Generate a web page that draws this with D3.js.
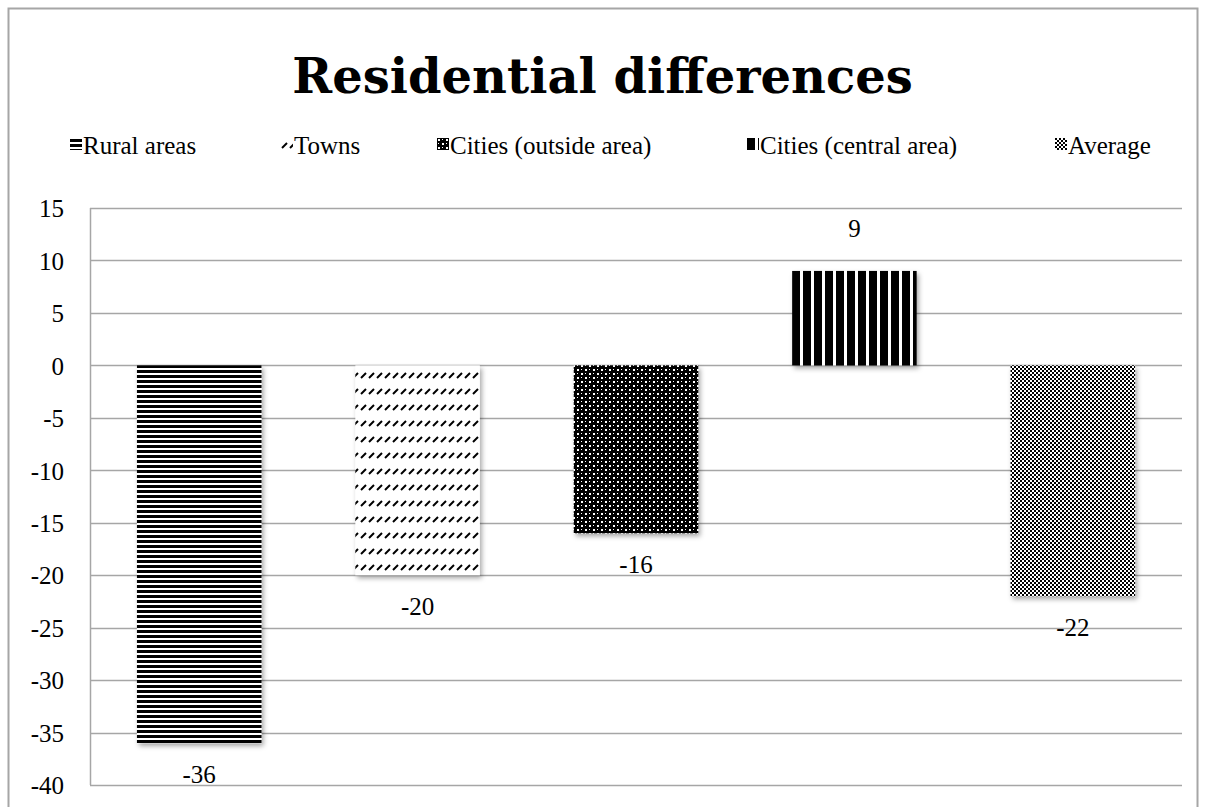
<!DOCTYPE html>
<html>
<head>
<meta charset="utf-8">
<script src="https://cdn.jsdelivr.net/npm/d3@7"></script>
<style>
  body { margin: 0; background: #fff; }
  text { font-family: "Liberation Serif", "DejaVu Serif", serif; fill: #000; }
</style>
</head>
<body>
<div id="chart"></div>
<script>
const categories = ['Rural areas', 'Towns', 'Cities (outside area)', 'Cities (central area)', 'Average'];
const values = [-36, -20, -16, 9, -22];
const tickValues = [15, 10, 5, 0, -5, -10, -15, -20, -25, -30, -35, -40];
const patternIds = ['pRural', 'pTowns', 'pOutside', 'pCentral', 'pAverage'];

const width = 1205;
const height = 807;
const margin = { top: 208, right: 23, bottom: 22, left: 90 };

const svg = d3.select('#chart')
  .append('svg')
  .attr('width', width)
  .attr('height', height);

// outer frame
svg.append('rect')
  .attr('x', 8.5)
  .attr('y', 8.5)
  .attr('width', 1189)
  .attr('height', 820)
  .attr('fill', 'none')
  .attr('stroke', '#a6a6a6')
  .attr('stroke-width', 2);

const defs = svg.append('defs');

// horizontal lines
const p1 = defs.append('pattern').attr('id', 'pRural')
  .attr('patternUnits', 'userSpaceOnUse').attr('width', 8).attr('height', 5);
p1.append('rect').attr('width', 8).attr('height', 5).attr('fill', '#fff');
p1.append('rect').attr('width', 8).attr('height', 3).attr('fill', '#000');

// dashed diagonals
const p2 = defs.append('pattern').attr('id', 'pTowns')
  .attr('patternUnits', 'userSpaceOnUse').attr('width', 8).attr('height', 16);
p2.append('rect').attr('width', 8).attr('height', 16).attr('fill', '#fff');
p2.append('path').attr('d', 'M1,10 L6,5').attr('stroke', '#000').attr('stroke-width', 2);

// diamond checks
const p3 = defs.append('pattern').attr('id', 'pOutside')
  .attr('patternUnits', 'userSpaceOnUse').attr('width', 8).attr('height', 8);
p3.append('rect').attr('width', 8).attr('height', 8).attr('fill', '#000');
p3.append('rect').attr('x', 1).attr('y', 1).attr('width', 2).attr('height', 2).attr('fill', '#fff');
p3.append('rect').attr('x', 5).attr('y', 5).attr('width', 2).attr('height', 2).attr('fill', '#fff');
p3.append('rect').attr('x', 5).attr('y', 1).attr('width', 1).attr('height', 1).attr('fill', '#fff');
p3.append('rect').attr('x', 1).attr('y', 5).attr('width', 1).attr('height', 1).attr('fill', '#fff');

// vertical stripes
const p4 = defs.append('pattern').attr('id', 'pCentral')
  .attr('patternUnits', 'userSpaceOnUse').attr('width', 11).attr('height', 8);
p4.append('rect').attr('width', 11).attr('height', 8).attr('fill', '#fff');
p4.append('rect').attr('width', 8).attr('height', 8).attr('fill', '#000');

// small checkerboard with dots
const p5 = defs.append('pattern').attr('id', 'pAverage')
  .attr('patternUnits', 'userSpaceOnUse').attr('width', 4).attr('height', 4);
p5.append('rect').attr('width', 4).attr('height', 4).attr('fill', '#fff');
p5.append('rect').attr('width', 2).attr('height', 2).attr('fill', '#000');
p5.append('rect').attr('x', 2).attr('y', 2).attr('width', 2).attr('height', 2).attr('fill', '#000');

const shadow = defs.append('filter').attr('id', 'shadow')
  .attr('x', '-10%').attr('y', '-10%').attr('width', '130%').attr('height', '130%');
shadow.append('feDropShadow')
  .attr('dx', 2).attr('dy', 3).attr('stdDeviation', 2.5)
  .attr('flood-color', '#000').attr('flood-opacity', 0.35);

// title
svg.append('text')
  .attr('x', width / 2)
  .attr('y', 93)
  .attr('text-anchor', 'middle')
  .style('font-family', '"DejaVu Serif", serif')
  .style('font-size', '48px')
  .style('font-weight', 'bold')
  .text('Residential differences');

// legend
const legendX = [70, 281, 437, 747, 1055];
const legend = svg.append('g');
categories.forEach((c, i) => {
  const lg = legend.append('g').attr('transform', `translate(${legendX[i]},154)`);
  lg.append('rect')
    .attr('x', 0).attr('y', -16)
    .attr('width', 12).attr('height', 12)
    .attr('fill', `url(#${patternIds[i]})`);
  lg.append('text')
    .attr('x', 13)
    .attr('y', 0)
    .style('font-size', '25px')
    .text(c);
});

const x = d3.scaleBand()
  .domain(categories)
  .range([margin.left, width - margin.right])
  .paddingInner(0.43)
  .paddingOuter(0.215);

const y = d3.scaleLinear()
  .domain([-40, 15])
  .range([height - margin.bottom, margin.top]);

// gridlines
svg.append('g')
  .selectAll('line')
  .data(tickValues)
  .enter()
  .append('line')
  .attr('x1', margin.left)
  .attr('x2', width - margin.right)
  .attr('y1', (d) => Math.round(y(d)) + 0.5)
  .attr('y2', (d) => Math.round(y(d)) + 0.5)
  .attr('stroke', '#a6a6a6')
  .attr('stroke-width', 1.5);

// left axis line
svg.append('line')
  .attr('x1', margin.left + 0.5)
  .attr('x2', margin.left + 0.5)
  .attr('y1', y(15))
  .attr('y2', y(-40))
  .attr('stroke', '#a6a6a6')
  .attr('stroke-width', 1.5);

const yAxis = svg.append('g')
  .attr('transform', `translate(${margin.left},0)`)
  .call(d3.axisLeft(y).tickValues(tickValues).tickSize(0).tickPadding(26).tickFormat((d) => `${d}`));
yAxis.select('.domain').remove();
yAxis.selectAll('text')
  .style('font-size', '25px')
  .style('font-family', '"Liberation Serif", "DejaVu Serif", serif')
  .attr('dy', '0.35em');

// bars
svg.append('g')
  .selectAll('rect')
  .data(values)
  .enter()
  .append('rect')
  .attr('x', (d, i) => x(categories[i]))
  .attr('y', (d) => y(Math.max(0, d)))
  .attr('width', x.bandwidth())
  .attr('height', (d) => Math.abs(y(d) - y(0)))
  .attr('fill', (d, i) => `url(#${patternIds[i]})`)
  .attr('filter', 'url(#shadow)');

// value labels
svg.append('g')
  .selectAll('text')
  .data(values)
  .enter()
  .append('text')
  .attr('x', (d, i) => x(categories[i]) + x.bandwidth() / 2)
  .attr('y', (d) => (d < 0 ? y(d) + 40 : y(d) - 34))
  .attr('text-anchor', 'middle')
  .style('font-size', '25px')
  .text((d) => d);
</script>
</body>
</html>
